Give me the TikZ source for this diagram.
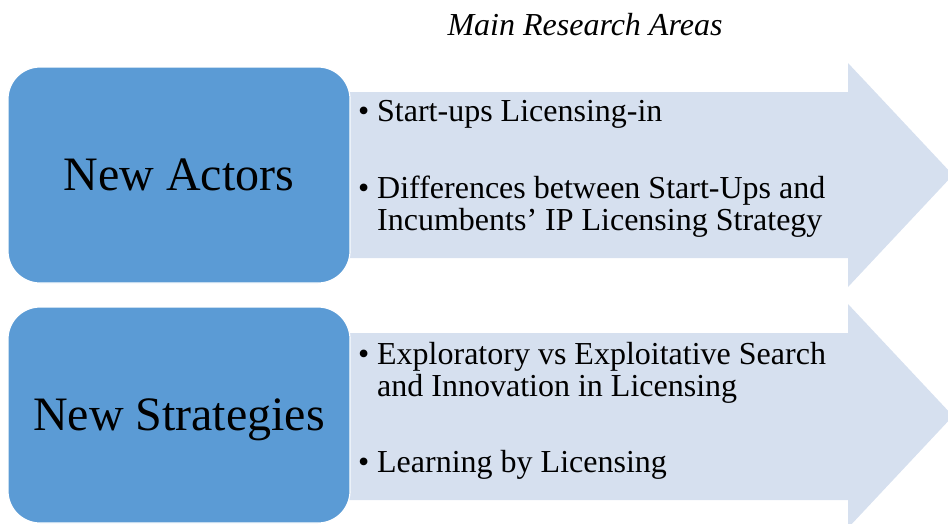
\documentclass[tikz,border=0pt]{standalone}
\usepackage{fontspec}
\setmainfont{Liberation Serif}
\definecolor{boxblue}{RGB}{91, 155, 213}
\definecolor{paleblue}{RGB}{214, 224, 239}
\newcommand{\bul}{\llap{\makebox[19pt][l]{\textbullet}}}

\begin{document}
\begin{tikzpicture}[x=1pt,y=-1pt,
        areabox/.style={draw=white,line width=1.2pt,fill=boxblue,rounded corners=32pt,text depth=0pt,
            minimum width=342pt,minimum height=216pt,inner sep=0pt,font=\fontsize{48}{52}\selectfont},
        item/.style={anchor=base west,align=left,inner sep=0pt,font=\fontsize{32}{32}\selectfont}]
        \useasboundingbox (0,0) rectangle (948,523);
        \clip (0,0) rectangle (948,523);

        % Arrows
        \fill[paleblue] (340,92) -- (848,92) -- (848,63) -- (953,175) -- (848,287) -- (848,258) -- (340,258) -- cycle;
        \fill[paleblue] (340,333) -- (848,333) -- (848,304) -- (953,416) -- (848,528) -- (848,500) -- (340,500) -- cycle;

        % Boxes
        \node[areabox] (actors) at (179,175) {New Actors};
        \node[areabox] (strategies) at (179,415) {New Strategies};

        % Title
        \node[anchor=base,inner sep=0pt,font=\fontsize{32}{32}\selectfont\itshape] (title) at (585,35) {Main Research Areas};

        % Items (base = last line)
        \node[item] (startups) at (377,121) {\bul Start-ups Licensing-in};
        \node[item] (differences) at (377,230) {\bul Differences between Start-Ups and\\Incumbents' IP Licensing Strategy};
        \node[item] (exploratory) at (377,396) {\bul Exploratory vs Exploitative Search\\and Innovation in Licensing};
        \node[item] (learning) at (377,472) {\bul Learning by Licensing};
    \end{tikzpicture}
\end{document}
